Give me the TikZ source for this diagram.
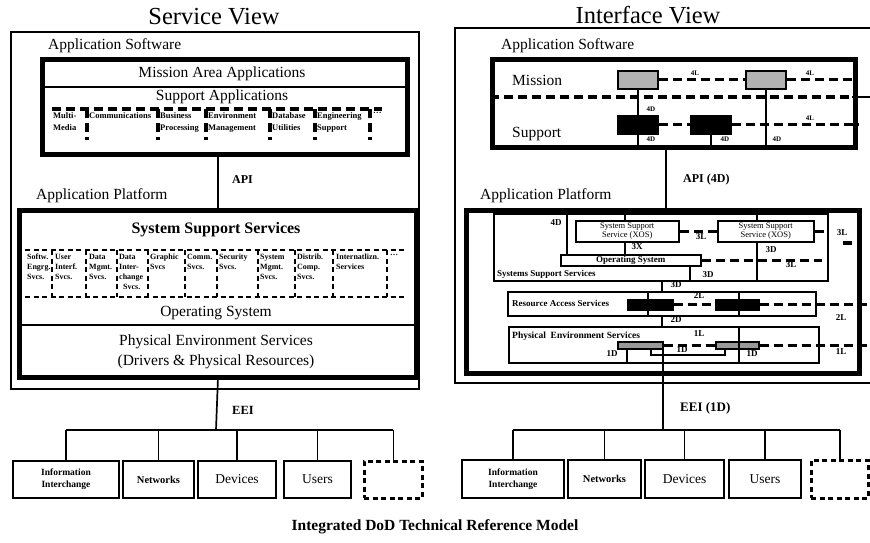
\documentclass[tikz,border=0pt]{standalone}
\usepackage{fontspec}
\setmainfont{Liberation Serif}

\begin{document}
\begin{tikzpicture}[x=1pt, y=-1pt,
  outer/.style={draw, line width=1.7pt, inner sep=0pt, anchor=north west},
  heavy/.style={draw, line width=4.8pt, inner sep=0pt, anchor=north west},
  box/.style={draw, line width=2pt, inner sep=0pt, anchor=north west, align=center},
  part/.style={draw, line width=1.5pt, inner sep=0pt, anchor=north west, align=center},
  link/.style={line width=1.7pt},
  dashline/.style={line width=3.2pt, dash pattern=on 9pt off 5pt},
  dotline/.style={line width=2.7pt, dash pattern=on 5pt off 3.5pt},
  viewtitle/.style={font=\fontsize{24.5}{28}\selectfont, inner sep=0pt},
  heading/.style={font=\fontsize{15.5}{18}\selectfont, inner sep=0pt},
  svclbl/.style={font=\bfseries\fontsize{8.5}{12.5}\selectfont, inner sep=0pt, align=left, anchor=north west},
  platlbl/.style={font=\bfseries\fontsize{8}{10}\selectfont, inner sep=0pt, align=left, anchor=north west},
  numtag/.style={font=\bfseries\fontsize{9}{10}\selectfont, inner sep=0pt},
  smalltag/.style={font=\bfseries\fontsize{7}{8}\selectfont, inner sep=0pt},
  ]
  \useasboundingbox (0,0) rectangle (870,542);

  % Service View
  \node[viewtitle] (svtitle) at (214,17) {Service View};
  \node[outer, minimum width=408, minimum height=357] (svframe) at (10,31) {};
  \node[heading, anchor=west] (svsoft) at (48,46) {Application Software};
  \node[heavy, minimum width=365, minimum height=95] (svapp) at (40,57) {};
  \draw[link] (40,87) -- (405,87);
  \node[heading] (svmission) at (222,74) {Mission Area Applications};
  \node[heading] (svsupport) at (222,97) {Support Applications};
  \draw[dashline] (52,109) -- (382,109);
  \foreach \x in {87,158,206,270,315,370}{
    \draw[dashline] (\x,109) -- (\x,140);
  }
  \foreach \x/\t [count=\i] in {53/Multi-\\Media, 89/Communications, 160/Business\\Processing,
      208/Environment\\Management, 272/Database\\Utilities, 317/Engineering\\Support, 373/\ldots}{
    \node[svclbl] (app\i) at (\x,112) {\t};
  }

  \node[heading, anchor=west] (svplatname) at (36,196) {Application Platform};
  \node[heavy, minimum width=397, minimum height=167] (svplat) at (17,208) {};
  \node[heading, font=\bfseries\fontsize{16}{18}\selectfont] (svsss) at (216,230) {System Support Services};
  \draw[dotline] (25,250) -- (405,250);
  \draw[dotline] (25,297) -- (405,297);
  \foreach \x in {52,86,117,148,185,217,258,295,333,387}{
    \draw[dotline] (\x,250) -- (\x,297);
  }
  \foreach \x/\t [count=\i] in {27/Softw.\\Engrg.\\Svcs., 55/User\\Interf.\\Svcs., 89/Data\\Mgmt.\\Svcs.,
      119/Data\\Inter-\\change\\\ \ Svcs., 150/Graphic\\Svcs, 187/Comm.\\Svcs., 219/Security\\Svcs.,
      260/System\\Mgmt.\\Svcs., 297/Distrib.\\Comp.\\Svcs., 336/Internatlizn.\\Services, 390/\ldots}{
    \node[platlbl] (svc\i) at (\x,254) {\t};
  }
  \node[heading] (svos) at (216,313) {Operating System};
  \draw[link] (17,325) -- (414,325);
  \node[heading, align=center, font=\fontsize{15.5}{20}\selectfont] (svpes) at (216,352)
    {Physical Environment Services\\(Drivers \& Physical Resources)};

  % API and EEI
  \draw[link] (svplat.north |- svapp.south) -- (svplat.north);
  \node[numtag, anchor=west, font=\bfseries\fontsize{12}{14}\selectfont] (svapi) at (232,180) {API};
  \coordinate (sveei) at (216,430);
  \draw[link] (svplat.south) -- (sveei);
  \node[numtag, anchor=west, font=\bfseries\fontsize{12.5}{14}\selectfont] (sveeilbl) at (232,410) {EEI};

  % Nodes
  \node[box, minimum width=106, minimum height=37, font=\bfseries\fontsize{9.5}{12}\selectfont] (info) at (12,460) {Information\\Interchange};
  \node[box, minimum width=71, minimum height=37, font=\bfseries\fontsize{10.5}{12}\selectfont] (net) at (122,460) {Networks};
  \node[box, minimum width=78, minimum height=37, font=\fontsize{13.5}{15}\selectfont] (dev) at (197,460) {Devices};
  \node[box, minimum width=67, minimum height=37, font=\fontsize{13.5}{15}\selectfont] (user) at (283,460) {Users};
  \node[box, dotline, minimum width=58, minimum height=37] (blank) at (363,460) {};
  % Edges
  \draw[link] (info.north |- sveei) -- (blank.north |- sveei);
  \foreach \n in {info,net,dev,user,blank}{
    \draw[link] (\n.north |- sveei) -- (\n.north);
  }

  % Interface View
  \node[viewtitle] (ivtitle) at (648,15) {Interface View};
  \draw[link] (870,28) -- (455,28) -- (455,383) -- (870,383);
  \node[heading, anchor=west] (ivsoft) at (501,46) {Application Software};
  \node[heavy, minimum width=363, minimum height=88] (ivapp) at (490,57) {};
  \node[heading, anchor=west] (ivmis) at (512,80) {Mission};
  \node[heading, anchor=west] (ivsup) at (512,134) {Support};
  \draw[dashline] (490,97) -- (852,97);
  \draw[link] (852,97) -- (870,97);
  \foreach \n/\x/\y/\c in {mis1/617/70/black!30, mis2/745/70/black!30, sup1/617/115/black, sup2/690/115/black}{
    \node[part, fill=\c, minimum width=40, minimum height=18] (\n) at (\x,\y) {};
  }
  \draw[dashline] (mis1) -- (mis2);
  \draw[dashline] (mis2) -- (852,0 |- mis2);
  \draw[dashline] (sup1) -- (sup2);
  \draw[dashline] (sup2) -- (858,0 |- sup2);
  \draw[link] (mis1) -- (sup1);
  \draw[link] (sup1) -- (sup1 |- ivapp.south);
  \draw[link] (sup2) -- (sup2 |- ivapp.south);
  \draw[link] (mis2) -- (mis2 |- ivapp.south);
  \foreach \x/\y/\t [count=\i] in {695/73/4L, 810/73/4L, 810/118/4L, 651/109/4D, 651/139/4D, 725/139/4D, 777/139/4D}{
    \node[smalltag] (sw\i) at (\x,\y) {\t};
  }

  \coordinate (ivapi) at (666,0 |- ivapp.south);
  \node[numtag, anchor=west, font=\bfseries\fontsize{12}{14}\selectfont] (ivapilbl) at (683,180) {API (4D)};
  \node[heading, anchor=west] (ivplatname) at (480,196) {Application Platform};
  \node[heavy, minimum width=393, minimum height=163] (ivplat) at (464,208) {};
  \draw[link] (ivapi) -- (ivapi |- ivplat.north);

  % System support services
  \node[part, minimum width=334, minimum height=67] (sss) at (493,213) {};
  \node[part, minimum width=103, minimum height=21, font=\fontsize{8.5}{9}\selectfont] (xos1) at (575,220) {System Support\\Service (XOS)};
  \node[part, minimum width=96, minimum height=21, font=\fontsize{8.5}{9}\selectfont] (xos2) at (717,220) {System Support\\Service (XOS)};
  \node[part, minimum width=140, minimum height=11, font=\bfseries\fontsize{9}{10}\selectfont] (ossys) at (560,254) {Operating System};
  \node[numtag, anchor=west] (ssslbl) at (497,274) {Systems Support Services};
  \draw[link] (567,0 |- ivplat.north) -- (567,0 |- ossys.north);
  \draw[link] (625,0 |- ivplat.north) -- (625,0 |- xos1.north);
  \draw[link] (757,0 |- ivplat.north) -- (757,0 |- xos2.north);
  \draw[link] (625,0 |- xos1.south) -- (625,0 |- ossys.north);
  \draw[link] (757,0 |- xos2.south) -- (757,0 |- sss.south);
  \draw[link] (690,0 |- ossys.south) -- (690,0 |- sss.south);
  \draw[dashline] (xos1) -- (xos2);
  \draw[dashline] (xos2) -- (826,0 |- xos2);
  \coordinate (xosout) at (843,243);
  \draw[dashline] (xosout) -- (858,243);
  \draw[dashline] (ossys) -- (822,0 |- ossys);

  % Resource access services
  \node[part, minimum width=308, minimum height=24] (ras) at (507,291) {};
  \node[numtag, anchor=west] (raslbl) at (512,303) {Resource Access Services};
  \draw[link] (662,0 |- sss.south) -- (662,0 |- ras.north);
  \draw[link] (648,0 |- ras.north) -- (648,0 |- ras.south);
  \draw[link] (739,0 |- ras.north) -- (739,0 |- ras.south);
  \node[part, fill=black, minimum width=45, minimum height=10] (bar1) at (627,299) {};
  \node[part, fill=black, minimum width=43, minimum height=10] (bar2) at (715,299) {};
  \draw[dashline] (bar1) -- (bar2);
  \draw[dashline] (bar2) -- (870,0 |- bar2);

  % Physical environment services
  \node[part, minimum width=310, minimum height=36] (pes) at (508,326) {};
  \node[numtag, anchor=west, font=\bfseries\fontsize{9.5}{10}\selectfont] (peslbl) at (512,336) {Physical\ \ Environment Services};
  \draw[link] (662,0 |- ras.south) -- (662,0 |- pes.north);
  \node[part, fill=black!40, minimum width=45, minimum height=7] (hb1) at (617,341) {};
  \node[part, fill=black!40, minimum width=43, minimum height=7] (hb2) at (715,341) {};
  \draw[link] (627,0 |- hb1.south) -- (627,0 |- pes.south);
  \draw[link] (651,0 |- hb1.south) |- (725,355) -- (725,0 |- hb2.south);
  \draw[link] (739,0 |- pes.north) -- (739,0 |- pes.south);
  \draw[dashline] (hb1) -- (hb2);
  \draw[dashline] (hb2) -- (870,0 |- hb2);

  \foreach \x/\y/\t [count=\i] in {556/223/4D, 637/247/3X, 701/237/3L, 771/250/3D, 791/265/3L, 708/275/3D,
      842/233/3L, 676/285/3D, 699/296/2L, 841/318/2L, 676/320/2D, 699/334/1L, 841/352/1L,
      612/354/1D, 682/350/1D, 752/354/1D}{
    \node[numtag] (pl\i) at (\x,\y) {\t};
  }

  % EEI
  \coordinate (iveei) at (663,430);
  \draw[link] (663,0 |- hb1.south) -- (iveei);
  \node[numtag, anchor=west, font=\bfseries\fontsize{13}{14}\selectfont] (iveeilbl) at (680,408) {EEI (1D)};

  % Nodes
  \node[box, minimum width=102, minimum height=38, font=\bfseries\fontsize{9.5}{12}\selectfont] (info2) at (461,459) {Information\\Interchange};
  \node[box, minimum width=73, minimum height=38, font=\bfseries\fontsize{10.5}{12}\selectfont] (net2) at (567,459) {Networks};
  \node[box, minimum width=79, minimum height=38, font=\fontsize{13.5}{15}\selectfont] (dev2) at (644,459) {Devices};
  \node[box, minimum width=72, minimum height=38, font=\fontsize{13.5}{15}\selectfont] (user2) at (728,459) {Users};
  \node[box, dotline, minimum width=57, minimum height=38] (blank2) at (810,459) {};
  % Edges
  \draw[link] (info2.north |- iveei) -- (blank2.north |- iveei);
  \foreach \n in {info2,net2,dev2,user2,blank2}{
    \draw[link] (\n.north |- iveei) -- (\n.north);
  }

  \node[font=\bfseries\fontsize{15.5}{18}\selectfont, inner sep=0pt] (caption) at (435,527) {Integrated DoD Technical Reference Model};
\end{tikzpicture}
\end{document}
